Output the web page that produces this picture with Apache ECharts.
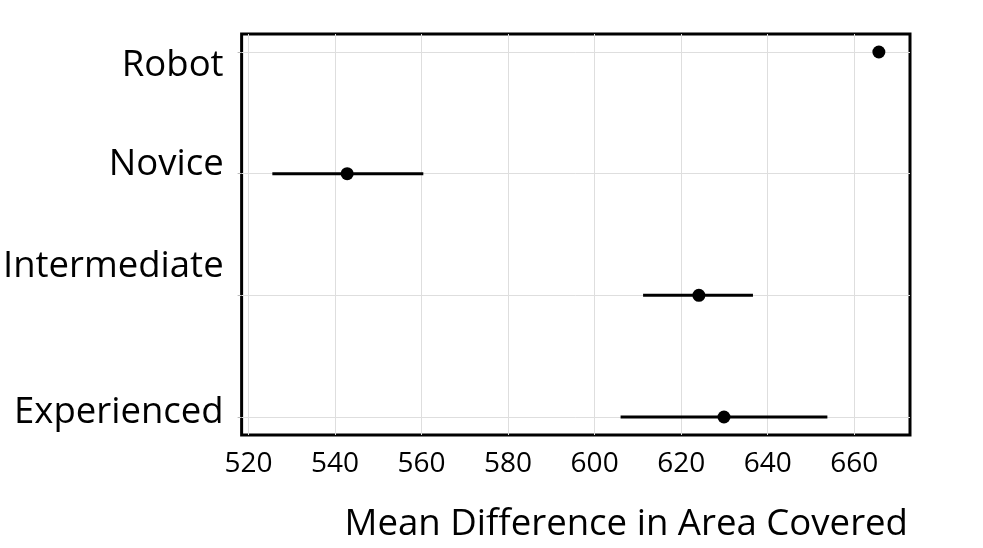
<!DOCTYPE html>
<html><head><meta charset="utf-8">
<script src="https://cdn.jsdelivr.net/npm/echarts@6/dist/echarts.min.js"></script>
<style>html,body{margin:0;padding:0;background:#fff}#c{width:983px;height:548px}</style>
</head><body><div id="c"></div>
<script>
// ---- data ----
const categories = ['Experienced', 'Intermediate', 'Novice', 'Robot'];
const means = [629.9, 624.1, 542.8, 665.7];
const lower = [606.0, 611.2, 525.5, 665.7];
const upper = [653.8, 636.6, 560.4, 665.7];
const xTicks = [520, 540, 560, 580, 600, 620, 640, 660];
const axisTitle = 'Mean Difference in Area Covered';

// ---- layout constants (label anchor positions on the y scale) ----
const labelAnchors = [0.04, 1.24, 2.072, 2.892];
const FONT = 'Open Sans';

const chart = echarts.init(document.getElementById('c'), null, {renderer: 'canvas'});

const option = {
  backgroundColor: '#fff',
  animation: false,
  title: {
    text: axisTitle,
    right: 70,
    top: 501,
    textStyle: {fontFamily: FONT, fontSize: 36.6, fontWeight: 'normal', color: '#000'}
  },
  grid: {
    show: true, left: 240, right: 73, top: 34, bottom: 113,
    borderColor: '#000', borderWidth: 3, backgroundColor: 'transparent'
  },
  xAxis: {
    type: 'value', min: 518.4, max: 672.9,
    axisLine: {show: false},
    axisTick: {show: false, customValues: xTicks},
    axisLabel: {customValues: xTicks, fontFamily: FONT, fontSize: 28, color: '#000', margin: 15},
    splitLine: {show: true, lineStyle: {color: '#dedede', width: 1}}
  },
  yAxis: {
    type: 'value', min: -0.148, max: 3.148,
    axisLine: {show: false},
    axisTick: {show: true, customValues: [0, 1, 2, 3], length: 4, lineStyle: {color: '#bbb', width: 1}},
    axisLabel: {
      customValues: labelAnchors,
      fontFamily: FONT, fontSize: 36.5, color: '#000', margin: 18,
      formatter: function (v) {
        let best = 0, d = Infinity;
        labelAnchors.forEach((a, i) => { if (Math.abs(a - v) < d) { d = Math.abs(a - v); best = i; } });
        return categories[best];
      }
    },
    splitLine: {show: true, lineStyle: {color: '#dedede', width: 1}}
  },
  series: [
    {
      type: 'custom',
      z: 2,
      data: categories.map((c, i) => [lower[i], upper[i], i]),
      renderItem: function (params, api) {
        const p1 = api.coord([api.value(0), api.value(2)]);
        const p2 = api.coord([api.value(1), api.value(2)]);
        return {
          type: 'line',
          shape: {x1: p1[0], y1: p1[1], x2: p2[0], y2: p2[1]},
          style: {stroke: '#000', lineWidth: 3}
        };
      },
      encode: {x: [0, 1], y: 2}
    },
    {
      type: 'scatter',
      z: 3,
      symbol: 'circle',
      symbolSize: 13,
      itemStyle: {color: '#000', opacity: 1},
      data: categories.map((c, i) => [means[i], i])
    }
  ]
};
chart.setOption(option);
</script>
</body></html>
